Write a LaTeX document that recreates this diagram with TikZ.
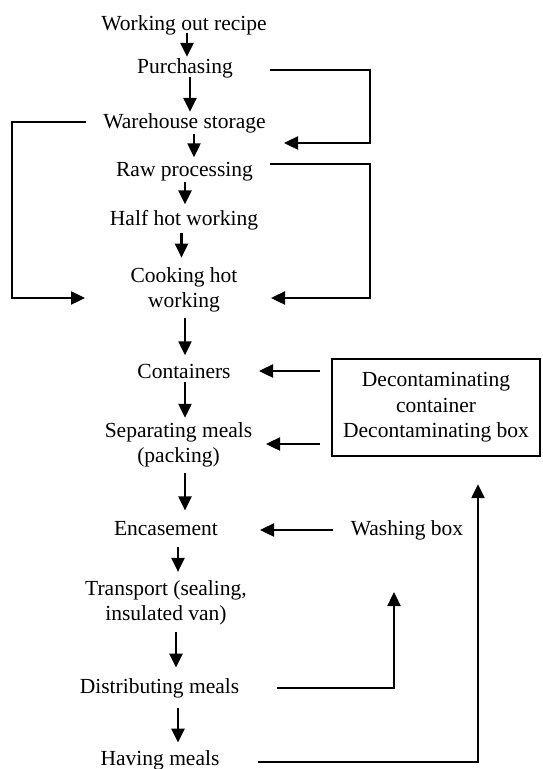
\documentclass[tikz,border=0pt]{standalone}
\usepackage{fontspec}
\setmainfont{Liberation Serif}
\usetikzlibrary{arrows.meta,calc}
\begin{document}
\begin{tikzpicture}[x=1pt,y=-1pt,
  lbl/.style={inner sep=1pt, font=\fontsize{21.5}{25.5}\selectfont, align=center},
  arr/.style={line width=2.4pt, -{Triangle[length=14pt,width=13pt]}},
  boxed/.style={lbl, draw, line width=2.4pt, minimum width=208pt, minimum height=97pt}]
\useasboundingbox (0,0) rectangle (542,769);
% main column
\node[lbl, anchor=base] (recipe) at (184,30) {Working out recipe};
\node[lbl, anchor=base] (purch) at (185,73) {Purchasing};
\node[lbl, anchor=base] (ware) at (184.5,128) {Warehouse storage};
\node[lbl, anchor=base] (raw) at (184.5,176) {Raw processing};
\node[lbl, anchor=base] (half) at (184,225) {Half hot working};
\node[lbl] (cook) at (184,290) {Cooking hot\\working};
\node[lbl, anchor=base] (cont) at (184,378) {Containers};
\node[lbl] (sep) at (178.5,445) {Separating meals\\(packing)};
\node[lbl, anchor=base] (enc) at (166,535) {Encasement};
\node[lbl] (trans) at (166,602.6) {Transport (sealing,\\insulated van)};
\node[lbl, anchor=base] (dist) at (159.5,693) {Distributing meals};
\node[lbl, anchor=base] (have) at (160,765) {Having meals};
% side nodes
\node[boxed] (box) at (436,407.5) {Decontaminating\\container\\Decontaminating box};
\node[lbl, anchor=base] (wash) at (407,535) {Washing box};
% free ends
\coordinate (wareIn) at (284,143);
\coordinate (cookInR) at (271,298);
\coordinate (cookInL) at (85,298);
\coordinate (washIn) at (394,592);
% vertical flow
\draw[arr, shorten <=-2.7pt] ([xshift=3pt]recipe.south) -- ([xshift=2pt]purch.north);
\draw[arr, shorten <=-1.7pt] ([xshift=5pt]purch.south) -- ([xshift=5.5pt]ware.north);
\draw[arr, shorten >=3.3pt] ([xshift=9.5pt]ware.south) -- ([xshift=9.5pt]raw.north);
\draw[arr, shorten >=4.3pt] ([xshift=0.5pt]raw.south) -- ([xshift=1pt]half.north);
\draw[arr, shorten <=2.3pt, shorten >=8.6pt] ([xshift=-2.5pt]half.south) -- ([xshift=-2.5pt]cook.north);
\draw[arr, shorten <=4.6pt, shorten >=7.3pt] ([xshift=1pt]cook.south) -- ([xshift=1pt]cont.north);
\draw[arr, shorten <=3pt, shorten >=3.5pt] ([xshift=1pt]cont.south) -- ([xshift=6.5pt]sep.north);
\draw[arr, shorten <=4.5pt, shorten >=9.3pt] ([xshift=6.5pt]sep.south) -- ([xshift=19pt]enc.north);
\draw[arr, shorten <=11pt, shorten >=7pt] ([xshift=12pt]enc.south) -- ([xshift=12pt]trans.north);
\draw[arr, shorten <=6pt, shorten >=9.3pt] ([xshift=10pt]trans.south) -- ([xshift=16.5pt]dist.north);
\draw[arr, shorten <=9.3pt, shorten >=6.3pt] ([xshift=18.5pt]dist.south) -- ([xshift=18pt]have.north);
% loops
\draw[arr] ($(purch.base)+(85,-3)$) -| (370,143) -- (wareIn);
\draw[arr] ($(raw.base)+(85.5,-12)$) -| (370,298) -- (cookInR);
\draw[arr] ($(ware.base)+(-98.5,-6)$) -| (12,298) -- (cookInL);
% feedback from box and washing
\draw[arr] ($(box.west |- cont.base)+(-10.5,-7)$) -- ($(cont.base)+(75,-7)$);
\draw[arr] ($(box.west |- sep)+(-10.5,-1)$) -- ($(sep)+(87.5,-1)$);
\draw[arr] ($(wash.base)+(-74,-5)$) -- ($(enc.base)+(94,-5)$);
\draw[arr] ($(dist.base)+(117.5,-5)$) -| (washIn);
\draw[arr] ($(have.base)+(98,-3)$) -| ($(box.south)+(42,27)$);
\end{tikzpicture}
\end{document}
